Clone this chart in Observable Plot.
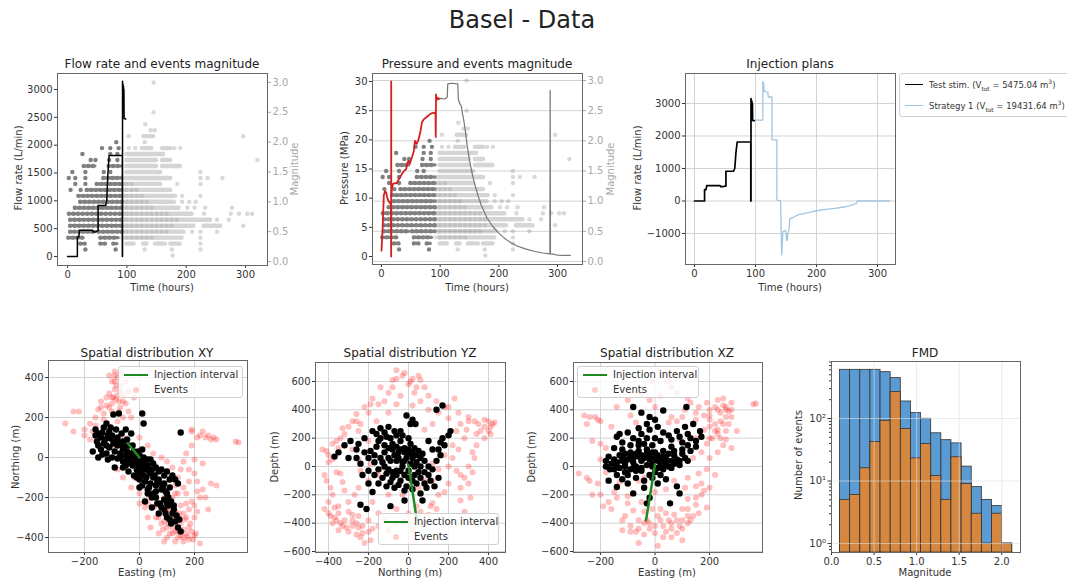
<!DOCTYPE html>
<html><head><meta charset="utf-8">
<script src="https://cdn.jsdelivr.net/npm/d3@7"></script>
<script src="https://cdn.jsdelivr.net/npm/@observablehq/plot@0.6"></script>
<style>
body{margin:0;background:#fff;}
#fig{position:relative;width:1067px;height:578px;overflow:hidden;font-family:"DejaVu Sans",sans-serif;color:#333;background:#fff;}
.title{position:absolute;font-size:12px;white-space:nowrap;transform:translate(-50%,-50%);color:#222;}
.lab{position:absolute;font-size:10px;white-space:nowrap;transform:translate(-50%,-50%);}
.vlab{position:absolute;font-size:10px;white-space:nowrap;transform:translate(-50%,-50%) rotate(-90deg);}
.legend{position:absolute;background:rgba(255,255,255,0.8);border:1px solid #d0d0d0;border-radius:3px;box-sizing:border-box;padding:0 5px;color:#333;}
.legend .row{display:flex;align-items:center;white-space:nowrap;}
.legend .mk{display:flex;align-items:center;justify-content:center;}
sub,sup{font-size:70%;line-height:0;}
</style></head>
<body><div id="fig"></div>
<script>
// ================= DATA =================
const hourTicks = [0, 100, 200, 300];
const flowTicks = [0, 500, 1000, 1500, 2000, 2500, 3000];
const magTicks = [0, 0.5, 1, 1.5, 2, 2.5, 3];
const presTicks = [0, 5, 10, 15, 20, 25, 30];
const planTicks = [-1000, 0, 1000, 2000, 3000];

// test stimulation flow rate [hours, L/min]
const flowRate = [[0,0],[16.5,0],[16.5,350],[19,350],[20,470],[42,470],[43,440],[48,445],[50,460],[51.5,460],[51.5,915],[64,915],[66,1000],[68,1500],[70,1815],[92.3,1815],[92.3,0],[92.6,0],[92.6,3150],[93,3000],[93.4,3100],[93.8,2980],[94.2,3060],[94.6,2960],[95,3000],[95.3,2480],[98,2470]];

// strategy 1 flow rate [hours, L/min]
const strategy1 = [[96,2490],[112,2490],[112,3680],[113.5,3600],[114,3380],[117,3360],[120,3350],[121,3200],[127,3200],[127,1880],[135,1880],[135,30],[141,10],[143,-1660],[145,-950],[149,-900],[150,-960],[151,-1220],[152,-1200],[153,-980],[155,-900],[156,-560],[160,-520],[165,-470],[170,-430],[180,-380],[190,-340],[200,-300],[215,-260],[230,-225],[245,-185],[255,-140],[262,-95],[266,-60],[267,0],[320,0]];

// measured wellhead pressure during stimulation [hours, MPa]
const pressureTest = [[0,1],[2,5],[4,10.5],[6,11.2],[8,11],[10,10],[12,9.5],[14,9.2],[16,9],[16.5,0],[16.6,30],[16.7,10.5],[18,11.8],[20,12.5],[26,12.6],[30,13.3],[34,14],[38,14.6],[42,15],[44,16],[46,16.4],[48,15.8],[52,17],[55,18],[57,19.8],[60,19.3],[63,20],[66,21.2],[69,23],[72,23.5],[78,24],[84,24.5],[92,24.7],[92.5,20.5],[93,27.8],[94,26.8],[96,27.2],[98,27]];
// pressure afterwards [hours, MPa]
const pressureAfter = [[95,27],[100,27.1],[108,27],[112,27.3],[113,29.6],[120,29.7],[130,29.6],[131,27],[133,26.3],[136,25.8],[138,24.5],[140,23.5],[143,21.5],[146,19],[150,16.5],[155,14],[160,12],[165,10.3],[170,8.8],[180,6.6],[190,5.1],[200,4],[210,3.1],[220,2.4],[230,1.85],[245,1.3],[260,0.9],[275,0.6],[287,0.45],[287.5,28.5],[288,0.45],[295,0.35],[300,0.25],[310,0.2],[322,0.2]];

// events magnitude vs time: dense runs [mag, t0, t1] and single events [mag, t]
const darkSpans = [[0.3,22,30],[0.3,56,64],[0.3,78,84],[0.4,2,27],[0.4,56,86],[0.5,5,13],[0.5,19,47],[0.5,53,92],[0.6,5,92],[0.7,5,92],[0.8,3,92],[0.9,13,92],[1.0,22,92],[1.1,19,92],[1.2,33,92],[1.3,50,92],[1.4,61,92],[1.6,28,47],[1.6,70,92]];
const darkDots = [[0.2,30],[0.2,81],[1.2,5],[1.2,22],[1.3,13],[1.3,30],[1.4,2],[1.4,13],[1.4,30],[1.5,8],[1.5,30],[1.5,61],[1.5,72],[1.7,39],[1.7,47],[1.7,70],[1.7,84],[1.8,25],[1.8,72],[1.8,84],[1.9,58],[1.9,72],[1.9,86],[2.0,82]];
const lightSpans = [[0.3,100,112],[0.3,128,134],[0.3,148,165],[0.3,174,190],[0.4,98,193],[0.5,92,196],[0.6,92,213],[0.6,230,258],[0.7,92,241],[0.8,92,210],[0.9,92,188],[1.0,92,180],[1.1,92,182],[1.2,92,174],[1.3,92,157],[1.4,92,174],[1.5,100,157],[1.6,100,150],[1.6,160,190],[1.7,100,150],[1.7,160,174],[1.8,100,162],[1.9,126,142],[1.9,160,174],[2.1,129,145]];
const lightCore = [[0.4,92,150],[0.5,92,170],[0.6,92,180],[0.7,92,185],[0.8,92,170],[0.9,92,150],[1.0,92,140],[1.1,92,130],[1.2,92,120],[1.3,92,110]];
const lightDots = [[0.1,177],[0.2,130],[0.2,176],[0.2,224],[0.3,224],[0.4,224],[0.5,210],[0.5,224],[0.5,252],[0.6,296],[0.7,252],[0.7,272],[0.8,230],[0.8,275],[0.8,289],[0.8,303],[0.8,311],[0.9,202],[0.9,214],[0.9,232],[0.9,277],[1.0,193],[1.0,205],[1.0,216],[1.1,193],[1.1,224],[1.3,185],[1.3,224],[1.4,224],[1.4,236],[1.4,261],[1.5,224],[1.7,320],[1.9,103],[1.9,114],[1.9,180],[1.9,190],[2.0,130],[2.1,103],[2.1,296],[2.2,140],[2.2,147],[2.3,131],[2.5,145],[3.0,145]];

// spatial distribution
const xyTicksX = [-200, 0, 200], xyTicksY = [-400, -200, 0, 200, 400];
const yzTicksX = [-400, -200, 0, 200, 400], zTicks = [-600, -400, -200, 0, 200, 400, 600];
const xzTicksX = [-200, 0, 200];
const injXY = [[0,0],[-42,70]];
const injYZ = [[0,10],[42,-380]];
const injXZ = [[0,15],[-33,-380]];
const xyBlack = [[-160,140],[-150,120],[-140,100],[-155,80],[-130,150],[-120,170],[-110,130],[-100,110],[-125,90],[-95,70],[-80,60],[-140,40],[-120,20],[-100,0],[-80,-5],[-70,20],[-60,40],[-50,10],[-40,-20],[-30,0],[-20,30],[-10,-30],[0,-50],[10,-10],[20,-60],[30,-40],[40,-80],[50,-100],[20,-120],[35,-150],[60,-140],[70,-110],[80,-160],[90,-130],[100,-180],[110,-150],[60,-200],[75,-230],[90,-260],[105,-240],[120,-280],[110,-310],[130,-320],[140,-350],[150,-370],[125,-260],[100,-300],[-80,100],[-60,80],[-40,60],[-20,10],[0,10],[10,40],[5,-80],[-10,-60],[40,-10],[60,-50],[80,-60],[100,-70],[120,-90],[130,-110],[140,-130],[150,125],[-95,215],[-75,220],[10,220],[15,170],[-30,120],[-50,140],[-10,-100],[30,-180],[-60,-20],[-90,-50],[-120,60],[-170,30],[-150,0],[0,-150],[20,-220],[45,-250],[70,-280],
[-145,110],[-135,125],[-115,110],[-105,95],[-90,90],[-75,75],[-65,60],[-55,55],[-45,30],[-35,20],[-25,-10],[-15,-20],[-5,-40],[5,-20],[15,-30],[25,-50],[35,-70],[45,-60],[55,-90],[65,-120],[75,-130],[85,-150],[95,-170],[105,-200],[115,-220],[125,-240],[135,-290],[145,-310],[115,-330],[95,-280],[80,-250],[65,-230],[50,-180],[40,-130],[25,-100],[15,-90],[-5,-70],[-25,-40],[-45,-10],[-70,0],[-90,30],[-110,50],[-130,70],[-105,150],[-85,140],[-65,120],[-45,90],[-25,60],[-5,30],[15,0],[30,-10],[50,-30],[70,-70],[90,-90],[110,-110],[-150,60],[-160,110],[-115,-10],[-135,15],[-60,-50],[-40,-70],[-20,-90],[0,-110],[10,-140],[30,-160],[45,-200],[60,-170],[90,-210],[100,-230],[-10,-10],[0,-20],[20,-40],[-30,-30],[10,-60],[-50,-40]];
const xyRed = [[-90,430],[-80,400],[-100,380],[-70,360],[-90,340],[-110,320],[-60,310],[-85,290],[-100,270],[-70,250],[-120,260],[-140,280],[-150,240],[-130,220],[-160,200],[-50,270],[-40,230],[-20,300],[-30,200],[-60,200],[-80,180],[-50,380],[-110,410],[-40,330],[-270,170],[-240,130],[-200,140],[-220,230],[-180,170],[-200,110],[-180,90],[-160,160],[-240,230],[190,140],[220,110],[250,110],[270,100],[280,90],[360,75],[350,80],[210,100],[170,20],[200,-10],[230,-30],[180,-60],[210,-120],[260,-130],[240,-200],[280,-140],[250,-260],[-20,-100],[0,-180],[20,-250],[40,-200],[60,-300],[80,-330],[100,-350],[120,-380],[140,-400],[160,-420],[180,-410],[200,-390],[220,-430],[150,-330],[170,-300],[130,-270],[110,-220],[90,-200],[150,-240],[170,-180],[190,-220],[200,-300],[160,-150],[140,-100],[120,-50],[100,-20],[80,0],[60,-80],[30,-300],[0,-230],[-30,-150],[-60,-100],[40,-350],[70,-380],[90,-420],[130,-420],[180,-350],[210,-270],[110,-100],[130,-180],[-80,-60],[-100,50],[-60,100],[0,100],[30,60],[50,20],[-130,190],[20,-20],
[100,-400],[110,-380],[130,-370],[150,-390],[160,-360],[170,-380],[190,-370],[140,-300],[120,-310],[160,-280],[180,-260],[200,-240],[220,-200],[230,-160],[90,-320],[70,-300],[50,-250],[30,-230],[60,-240],[110,-260],[-70,330],[-80,310],[-95,300],[-60,280],[-75,230],[-100,230],[-120,300],[-90,380],[-70,420],[-130,120],[-170,130],[230,130],[260,90],[190,60],[160,-20],[150,-60],[130,-140],[210,-170],[180,-120],[200,-80],
[120,-350],[140,-370],[160,-400],[175,-395],[195,-410],[205,-380],[185,-330],[165,-310],[145,-280],[125,-290],[105,-330],[85,-360],[100,-260],[120,-200],[140,-180],[170,-230],[-90,410],[-85,360],[-100,300],[-75,280],[-110,250],[-140,250],[190,130],[240,100]];
const yzBlack = [[-370,70],[-350,100],[-320,150],[-290,180],[-260,120],[-300,60],[-240,20],[-230,-60],[-200,-30],[-220,200],[-180,250],[-160,230],[-140,270],[-120,240],[-100,280],[-150,180],[-120,150],[-90,200],[-60,220],[-40,180],[-80,120],[-50,100],[-20,130],[0,90],[20,60],[40,30],[60,0],[-100,60],[-130,30],[-150,-20],[-110,-50],[-80,-80],[-60,-30],[-30,0],[0,-30],[30,-60],[-40,-100],[-10,-140],[-70,-150],[-110,-140],[-150,-120],[-180,-180],[-240,-270],[-210,-300],[-90,-280],[-20,-240],[60,-190],[80,-120],[100,-60],[120,-20],[130,-140],[150,-80],[140,40],[160,80],[180,150],[200,220],[210,250],[160,170],[120,120],[100,180],[-10,360],[20,330],[35,300],[10,300],[170,430],[140,400],[-20,40],[-60,40],[-170,80],[-190,110],[70,-240],[-40,250],[0,200],
[-120,100],[-100,130],[-80,160],[-60,140],[-40,120],[-20,100],[0,120],[20,100],[40,80],[60,60],[80,40],[-140,60],[-120,0],[-100,-20],[-80,-40],[-60,-60],[-40,-30],[-20,-60],[0,-80],[20,-100],[40,-120],[60,-80],[80,-40],[100,0],[-160,140],[-140,200],[-110,210],[-70,250],[-30,220],[10,160],[30,130],[50,110],[70,90],[-90,40],[-70,80],[-50,60],[-30,30],[-10,60],[10,20],[30,0],[-130,-80],[-90,-110],[-50,-130],[-20,-170],[20,-160],[-200,60],[-220,100],[-250,160],[-200,-120],[-170,-60],[110,-100],[90,-150],[50,-40],[-170,30],[170,200],[150,120],[-260,60]];
const yzRed = [[-60,680],[-30,640],[-80,610],[50,640],[20,620],[-140,560],[-100,520],[-40,500],[30,520],[80,560],[-180,480],[-150,440],[-220,420],[-260,370],[-280,320],[-300,280],[-340,200],[-380,160],[-410,110],[-430,120],[-400,30],[-360,-40],[-410,-100],[-380,-200],[-420,-300],[-390,-350],[-360,-380],[-330,-420],[-300,-460],[-260,-400],[-240,-500],[-220,-540],[-280,-340],[-300,-250],[-320,-170],[-250,-150],[-200,-100],[-180,-250],[-150,-330],[-120,-380],[-60,-300],[-20,-390],[20,-450],[80,-400],[60,-320],[120,-260],[150,-200],[180,-180],[200,-120],[260,-60],[280,-80],[300,0],[320,100],[340,150],[380,200],[400,320],[430,310],[380,330],[300,350],[260,300],[240,250],[220,150],[180,80],[150,-20],[120,-100],[110,-280],[80,-100],[-30,-200],[-100,-200],[-150,-60],[-250,50],[-280,120],[-200,180],[-160,320],[-100,380],[-60,440],[20,430],[60,460],[100,400],[140,460],[180,420],[230,480],[200,340],[120,300],[80,260],[-250,250],[-330,-110],[-370,-290],[-350,-330],[-260,-480],[-230,-420],[-200,-380],[-180,-440],[280,-320],[260,-240],[310,-220],[330,60],[360,250],[410,230],[-120,-10],[-40,-40],[50,-150],[120,20],[-190,20],[-240,-30],
[-380,-400],[-350,-450],[-320,-380],[-280,-420],[-250,-350],[-400,-250],[-350,-280],[-300,-320],[-200,-460],[-190,-520],[-150,-420],[-100,-450],[-60,-400],[0,-330],[40,-280],[100,-340],[140,-300],[-270,-200],[-340,-50],[-380,50],[-350,130],[-320,230],[-240,300],[-200,380],[-120,460],[-80,560],[0,580],[40,560],[100,500],[150,380],[200,420],[250,380],[300,320],[350,300],[420,300],[400,250],[340,230],[280,200],[250,120],[220,60],[200,0],[240,-30],[260,-150],[300,-120],[320,-40],
[-400,-330],[-370,-360],[-340,-400],[-310,-430],[-280,-380],[-250,-430],[-230,-470],[-390,-150],[-420,-60],[-400,80],[-360,180],[-330,270],[-260,320],[-190,440],[-60,620],[-20,660],[10,600],[60,610],[380,280],[410,280],[330,320],[290,260]];
const xzBlack = [[-80,420],[-50,380],[-20,350],[0,330],[30,395],[10,280],[-30,300],[-60,270],[-100,240],[-130,230],[-140,210],[-120,170],[-90,150],[-60,180],[-30,200],[-10,150],[20,180],[50,220],[80,250],[110,280],[140,300],[165,250],[170,210],[130,200],[100,170],[60,140],[30,110],[0,100],[-30,90],[-60,110],[-90,80],[-120,60],[-150,50],[-180,40],[-165,-20],[-140,0],[-110,20],[-80,30],[-50,40],[-20,50],[10,40],[40,60],[70,80],[100,90],[130,110],[150,140],[120,40],[90,10],[60,-10],[30,-20],[0,-40],[-20,-60],[-50,-30],[-80,-10],[-110,-40],[-140,-60],[-170,-100],[-140,-145],[-100,-120],[-80,-190],[-40,-150],[10,-120],[40,-90],[80,-140],[90,-190],[55,-260],[-30,-260],[-20,-220],[115,420],[-120,120],[-70,0],[-10,0],[20,10],
[-160,20],[-140,30],[-120,40],[-100,50],[-80,60],[-60,70],[-40,60],[-20,70],[0,60],[20,50],[40,30],[60,40],[80,50],[-130,80],[-110,90],[-90,100],[-70,90],[-50,80],[-30,120],[-10,100],[10,80],[30,70],[50,90],[70,110],[-150,-20],[-130,-10],[-110,0],[-90,-20],[-70,-30],[-50,-10],[-30,10],[-10,20],[10,-10],[30,10],[50,0],[70,20],[90,40],[-100,-60],[-70,-80],[-40,-100],[-10,-80],[20,-60],[-60,150],[-40,160],[-80,200],[-50,230],[-20,260],[0,200],[30,240],[60,190],[90,210],[120,230],[150,180],[120,150],[-150,130],[-170,70],[-180,0],[-120,-90],[110,60],[100,120]];
const xzRed = [[-260,360],[-240,350],[-210,330],[-230,180],[-200,160],[-280,-50],[-250,-80],[-210,-120],[-230,-200],[-190,-280],[-140,-220],[-100,-260],[-110,-350],[-120,-450],[-70,-460],[-60,-540],[-20,-440],[10,-350],[20,-300],[50,-380],[70,-340],[90,-420],[120,-400],[100,-300],[140,-350],[150,-270],[170,-200],[190,-290],[60,-500],[80,-470],[30,-500],[-30,-380],[-40,-320],[-80,-310],[120,-230],[150,-140],[120,-80],[160,-50],[190,-20],[200,60],[170,100],[190,160],[210,200],[230,260],[200,280],[240,320],[260,350],[270,390],[250,430],[280,450],[230,470],[250,480],[200,400],[180,360],[150,380],[130,450],[120,480],[80,520],[60,560],[50,600],[40,650],[-10,600],[-50,520],[20,500],[-20,470],[-100,470],[-140,420],[-90,360],[-160,280],[-180,130],[-180,-40],[-130,-110],[-60,-100],[0,-180],[40,-160],[-200,50],[360,440],[370,445],[280,130],[260,190],[300,250],[220,-60],[230,100],[-250,300],[100,-520],[10,-560],[-40,-400],[-160,-300],[70,-100],[110,-150],[60,350],[0,420],[-70,310],[90,190],[140,60],[-40,-80],[170,-120],[200,-150],[50,310],[150,200],
[-120,-380],[-90,-420],[-60,-380],[-40,-480],[0,-470],[30,-420],[60,-440],[100,-440],[130,-380],[160,-330],[80,-380],[40,-330],[-10,-300],[-50,-250],[-100,-210],[-150,-180],[-170,-250],[-200,-200],[200,200],[220,300],[250,300],[280,350],[260,400],[220,420],[190,450],[160,420],[110,400],[100,350],[80,320],[150,330],[200,330],[230,230],[250,150],[180,260],[120,-300],[150,-220],[180,-170],[-240,-100],[-200,320],[-220,350],
[230,400],[240,380],[260,420],[280,400],[200,360],[220,250],[240,200],[260,250],[270,300],[-60,-440],[-20,-400],[20,-380],[60,-400],[100,-380],[120,-350],[-90,-460],[0,-420],[40,-460]];

// FMD
const fmdEdges = [0.100,0.219,0.338,0.457,0.576,0.695,0.814,0.933,1.052,1.171,1.290,1.409,1.528,1.647,1.766,1.885,2.004,2.123];
const fmdAll = [600,600,600,600,550,442,187,122,99,58,45,40,17,8,5,4,1];
const fmdInj = [5,6,16,42,92,265,68,23,39,12,5,24,9,3,1,3,1];
const fmdTicksX = [0, 0.5, 1, 1.5, 2];
const fmdTicksY = [1, 10, 100];
const fmdTickLabels = ["10⁰", "10¹", "10²"];
const fmdMinor = [0.8,0.9,2,3,4,5,6,7,8,9,20,30,40,50,60,70,80,90,200,300,400,500,600,700,800];

// ================= DRAWING =================
const fig = document.getElementById("fig");
const M = {l: 48, r: 42, t: 6, b: 24};
const fInt = d3.format("d"), f1 = d3.format(".1f");
const FRAME = "#666", GRID = "#d3d3d3", TICK = "#333", MAGC = "#a8a8a8", EV = "#808080";

function plotAt(frame, opts) {
  const [x0, x1, y0, y1] = frame;
  const w = x1 - x0 + M.l + M.r, h = y1 - y0 + M.t + M.b;
  const svg = Plot.plot({
    width: w, height: h, marginLeft: M.l, marginRight: M.r, marginTop: M.t, marginBottom: M.b,
    style: "font-family:'DejaVu Sans',sans-serif;font-size:10px;background:transparent;overflow:visible;max-width:none;color:#333;",
    ...opts
  });
  const wrap = document.createElement("div");
  wrap.style.cssText = `position:absolute;left:${x0 - M.l}px;top:${y0 - M.t}px;width:${w}px;height:${h}px;`;
  wrap.appendChild(svg);
  fig.appendChild(wrap);
}
function text(cls, str, x, y, extra) {
  const d = document.createElement("div");
  d.className = cls; d.innerHTML = str;
  d.style.left = x + "px"; d.style.top = y + "px";
  if (extra) Object.assign(d.style, extra);
  fig.appendChild(d);
}
function legend(box, rowH, fontSize, mkW, items) {
  const d = document.createElement("div");
  d.className = "legend";
  Object.assign(d.style, {left: box[0] + "px", top: box[1] + "px", width: box[2] + "px", height: box[3] + "px", fontSize: fontSize + "px"});
  for (const it of items) {
    const r = document.createElement("div");
    r.className = "row"; r.style.height = rowH + "px";
    const mk = it.type === "line"
      ? `<span style="display:block;width:${mkW}px;height:0;border-top:${it.w}px solid ${it.color}"></span>`
      : `<span style="display:block;width:6px;height:6px;border-radius:50%;background:${it.color}"></span>`;
    r.innerHTML = `<span class="mk" style="width:${mkW}px;margin-right:6px">${mk}</span><span>${it.label}</span>`;
    d.appendChild(r);
  }
  fig.appendChild(d);
}

const xAxis = (ticks, fmt = fInt) => Plot.axisX({ticks, tickSize: 3, tickPadding: 2, tickFormat: fmt, label: null, color: TICK});
const yAxis = (ticks, fmt = fInt) => Plot.axisY({ticks, tickSize: 3, tickPadding: 2, tickFormat: fmt, label: null, color: TICK});
const magAxis = () => Plot.axisY({anchor: "right", ticks: magTicks, tickSize: 3, tickPadding: 2, tickFormat: f1, label: null, color: MAGC});

function eventMarks() {
  const span = {y: d => d[0], x1: d => d[1], x2: d => d[2], stroke: EV, strokeWidth: 4.4, strokeLinecap: "round"};
  return [
    Plot.ruleY(lightSpans, {...span, strokeOpacity: 0.33}),
    Plot.ruleY(lightCore, {...span, strokeOpacity: 0.22, strokeDasharray: "0 5"}),
    Plot.dot(lightDots, {x: d => d[1], y: d => d[0], r: 2.2, fill: EV, fillOpacity: 0.3}),
    Plot.ruleY(darkSpans, {...span, strokeDasharray: "0 4.6"}),
    Plot.ruleY(darkSpans, {...span, strokeWidth: 3.2}),
    Plot.dot(darkDots, {x: d => d[1], y: d => d[0], r: 2.2, fill: EV})
  ];
}

// ---- main title
text("title", "Basel - Data", 522, 20, {fontSize: "24px"});

// ---- Panel 1: flow rate and magnitude
const F1 = [57, 267, 73, 265];
plotAt(F1, {x: {domain: [-17, 337]}, y: {domain: [-0.067, 3.15]},
  marks: [...eventMarks(), xAxis(hourTicks), magAxis()]});
plotAt(F1, {x: {domain: [-17, 337], axis: null}, y: {domain: [-162, 3287]},
  marks: [Plot.line(flowRate, {x: d => d[0], y: d => d[1], stroke: "black", strokeWidth: 1.5}), yAxis(flowTicks), Plot.frame({stroke: FRAME})]});
text("title", "Flow rate and events magnitude", 162, 64);
text("lab", "Time (hours)", 162, 287);
text("vlab", "Flow rate (L/min)", 18, 168);
text("vlab", "Magnitude", 294, 169, {color: MAGC});

// ---- Panel 2: pressure and magnitude
const F2 = [372, 582, 73, 264];
plotAt(F2, {x: {domain: [-15.3, 342.6]}, y: {domain: [-0.05, 3.116]},
  marks: [Plot.gridY({ticks: magTicks, stroke: GRID, strokeOpacity: 1}), ...eventMarks(), xAxis(hourTicks), magAxis()]});
plotAt(F2, {x: {domain: [-15.3, 342.6], axis: null}, y: {domain: [-1.37, 31.37]},
  marks: [
    Plot.line(pressureAfter, {x: d => d[0], y: d => d[1], stroke: "#777", strokeWidth: 1.2}),
    Plot.line(pressureTest, {x: d => d[0], y: d => d[1], stroke: "#d42020", strokeWidth: 1.8}),
    yAxis(presTicks), Plot.frame({stroke: FRAME})]});
text("title", "Pressure and events magnitude", 477, 64);
text("lab", "Time (hours)", 477, 287);
text("vlab", "Pressure (MPa)", 344, 168);
text("vlab", "Magnitude", 610, 169, {color: MAGC});

// ---- Panel 3: injection plans
const F3 = [685, 895, 73, 264];
plotAt(F3, {x: {domain: [-14.75, 329.5]}, y: {domain: [-1954, 3923]},
  marks: [
    Plot.gridX({ticks: hourTicks, stroke: GRID, strokeOpacity: 1}),
    Plot.gridY({ticks: planTicks, stroke: GRID, strokeOpacity: 1}),
    Plot.line(strategy1, {x: d => d[0], y: d => d[1], stroke: "#a3c6e0", strokeWidth: 1.3}),
    Plot.line(flowRate, {x: d => d[0], y: d => d[1], stroke: "black", strokeWidth: 1.7}),
    xAxis(hourTicks), yAxis(planTicks), Plot.frame({stroke: FRAME})]});
text("title", "Injection plans", 790, 64);
text("lab", "Time (hours)", 790, 287);
text("vlab", "Flow rate (L/min)", 637, 168);
legend([899, 73, 175, 44], 21, 8.5, 18, [
  {type: "line", color: "black", w: 1.8, label: "Test stim. (V<sub>tot</sub> = 5475.04 m<sup>3</sup>)"},
  {type: "line", color: "#a3c6e0", w: 1.5, label: "Strategy 1 (V<sub>tot</sub> = 19431.64 m<sup>3</sup>)"}]);

// ---- spatial panels
function spatial(frame, xd, yd, xt, yt, red, black, inj) {
  plotAt(frame, {x: {domain: xd}, y: {domain: yd},
    marks: [
      Plot.gridX({ticks: xt, stroke: GRID, strokeOpacity: 1}),
      Plot.gridY({ticks: yt, stroke: GRID, strokeOpacity: 1}),
      Plot.dot(red, {x: d => d[0], y: d => d[1], r: 3, fill: "red", fillOpacity: 0.25}),
      Plot.dot(black, {x: d => d[0], y: d => d[1], r: 3.2, fill: "black"}),
      Plot.line(inj, {x: d => d[0], y: d => d[1], stroke: "#1f8a1f", strokeWidth: 2.5}),
      xAxis(xt), yAxis(yt), Plot.frame({stroke: FRAME})]});
}
const legItems = [
  {type: "line", color: "#1f8a1f", w: 2.5, label: "Injection interval"},
  {type: "dot", color: "rgba(255,0,0,0.2)", label: "Events"}];

spatial([48, 247, 360, 552], [-331, 393], [-475, 485], xyTicksX, xyTicksY, xyRed, xyBlack, injXY);
text("title", "Spatial distribution XY", 147, 353);
text("lab", "Easting (m)", 147, 572);
text("vlab", "Northing (m)", 15, 457);
legend([118, 366, 125, 32], 15, 10, 24, legItems);

spatial([315, 505, 362, 552], [-465, 485], [-607, 734], yzTicksX, zTicks, yzRed, yzBlack, injYZ);
text("title", "Spatial distribution YZ", 410, 353);
text("lab", "Northing (m)", 410, 572);
text("vlab", "Depth (m)", 274, 457);
legend([378, 513, 121, 32], 15, 10, 24, legItems);

spatial([573, 762, 362, 552], [-299, 394], [-607, 734], xzTicksX, zTicks, xzRed, xzBlack, injXZ);
text("title", "Spatial distribution XZ", 667, 353);
text("lab", "Easting (m)", 667, 572);
text("vlab", "Depth (m)", 531, 457);
legend([577, 366, 122, 32], 15, 10, 24, legItems);

// ---- FMD
const fmdFloor = 0.72;
const fmdBins = fmdAll.map((v, i) => ({x1: fmdEdges[i], x2: fmdEdges[i + 1], all: v, inj: fmdInj[i]}));
plotAt([831, 1020, 361, 552], {x: {domain: [0, 2.22]}, y: {type: "log", domain: [fmdFloor, 815]},
  marks: [
    Plot.rect(fmdBins, {x1: "x1", x2: "x2", y1: () => fmdFloor, y2: "all", fill: "#5b9bd3", stroke: "#333", strokeWidth: 0.8, clip: true}),
    Plot.rect(fmdBins, {x1: "x1", x2: "x2", y1: () => fmdFloor, y2: "inj", fill: "#d6873f", stroke: "#333", strokeWidth: 0.8, clip: true}),
    Plot.gridX({ticks: fmdTicksX, stroke: "#ddd", strokeOpacity: 0.6}),
    Plot.gridY({ticks: fmdTicksY, stroke: "#ddd", strokeOpacity: 0.6}),
    xAxis(fmdTicksX, f1),
    Plot.axisY({ticks: fmdMinor, tickSize: 2, tickFormat: () => "", label: null, color: TICK}),
    Plot.axisY({ticks: fmdTicksY, tickSize: 3.5, tickPadding: 2, tickFormat: d => fmdTickLabels[fmdTicksY.indexOf(d)], label: null, color: TICK}),
    Plot.frame({stroke: FRAME})]});
text("title", "FMD", 925, 353);
text("lab", "Magnitude", 925, 572);
text("vlab", "Number of events", 798, 455);
</script></body></html>
